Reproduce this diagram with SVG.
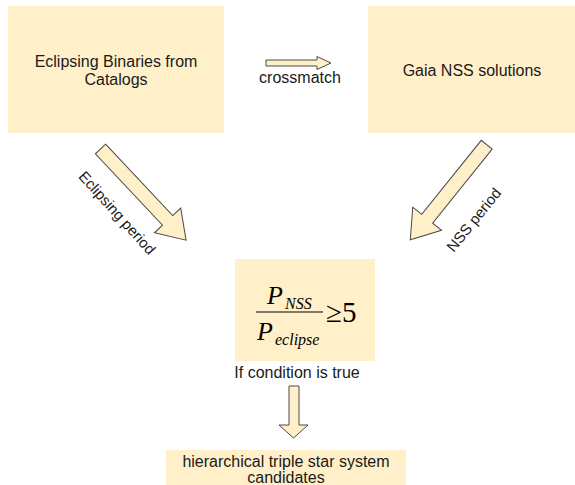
<svg xmlns="http://www.w3.org/2000/svg" width="575" height="485" viewBox="0 0 575 485">
<style>
.box{fill:#fff0c9;stroke:none}
.arr{fill:#fff0c9;stroke:#4a4a4a;stroke-width:1;stroke-linejoin:miter}
.t{font-family:"Liberation Sans",Arial,sans-serif;font-size:16px;fill:#1a1a1a;text-anchor:middle}
.m{font-family:"Liberation Serif","Times New Roman",serif;fill:#000}
</style>
<rect width="575" height="485" fill="#fff"/>
<g id="connectors">
<g id="crossmatch">
<path class="arr" d="M266,60 H317 V56.5 L331,63 L317,69.5 V66 H266 Z"/>
<text class="t" x="300" y="83">crossmatch</text>
</g>
<g id="eclipsing-period">
<path class="arr" transform="translate(100.5,149) rotate(46.8)" d="M0,-7 H98 V-18 L125,0 L98,18 V7 H0 Z"/>
<text class="t" style="font-size:15px" transform="translate(117,213) rotate(48)" y="5">Eclipsing period</text>
</g>
<g id="nss-period">
<path class="arr" transform="translate(486.7,144.7) rotate(128.8)" d="M0,-7 H95 V-18.5 L122,0 L95,18.5 V7 H0 Z"/>
<text class="t" style="font-size:15px" transform="translate(474,220) rotate(-51)" y="5">NSS period</text>
</g>
<g id="condition-true">
<path class="arr" d="M289,386 H299 V425 H308 L293.5,438 L279,425 H289 Z"/>
<text class="t" x="297" y="378">If condition is true</text>
</g>
</g>
<g id="eclipsing-binaries">
<rect class="box" x="8" y="6" width="216" height="127"/>
<text class="t" x="116" y="67">Eclipsing Binaries from</text>
<text class="t" x="116" y="85">Catalogs</text>
</g>
<g id="gaia-nss">
<rect class="box" x="368" y="6" width="207" height="127"/>
<text class="t" x="472" y="76">Gaia NSS solutions</text>
</g>
<g id="condition">
<rect class="box" x="235" y="259" width="140" height="102"/>
<text class="m" x="267" y="304" font-size="26" font-style="italic">P</text>
<text class="m" x="285" y="309" font-size="16" font-style="italic">NSS</text>
<line x1="256" y1="312" x2="323" y2="312" stroke="#000" stroke-width="1.2"/>
<text class="m" x="257" y="340" font-size="26" font-style="italic">P</text>
<text class="m" x="275" y="345" font-size="16" font-style="italic">eclipse</text>
<text class="m" x="326" y="322" font-size="29">≥5</text>
</g>
<g id="candidates">
<rect class="box" x="166" y="450" width="240" height="35"/>
<text class="t" x="286" y="467">hierarchical triple star system</text>
<text class="t" x="286" y="483">candidates</text>
</g>
</svg>
